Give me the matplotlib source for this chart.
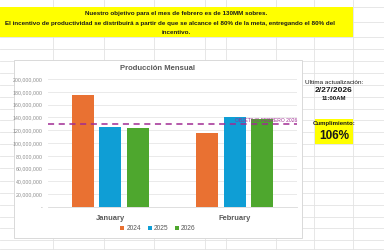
import numpy as np
import matplotlib
matplotlib.use("Agg")
import matplotlib.pyplot as plt
from matplotlib.patches import Rectangle
from matplotlib.lines import Line2D
from matplotlib.ticker import FuncFormatter

plt.rcParams["font.family"] = ["Liberation Sans", "DejaVu Sans"]

W, H = 384, 250

months = ["January", "February"]
years = ["2024", "2025", "2026"]
values_2024 = [175e6, 116e6]
values_2025 = [124.5e6, 140e6]
values_2026 = [123.5e6, 137.5e6]
objetivo = 130e6
colors = ["#E97132", "#0F9ED5", "#4EA72E"]

banner_lines = [
    "Nuestro objetivo para el mes de febrero es de 130MM sobres.",
    "El incentivo de productividad se distribuirá a partir de que se alcance el 80% de la meta, entregando el 80% del",
    "incentivo.",
]


def fx(x):
    return x / W


def fy(y):
    return 1 - y / H


fig = plt.figure(figsize=(W / 100, H / 100), dpi=100)
fig.patch.set_facecolor("white")

# spreadsheet cell grid
grid_c = "#E3E3E3"
for x in [53, 104, 154, 205, 226, 276, 314, 353]:
    fig.add_artist(Line2D([fx(x), fx(x)], [0, 1], color=grid_c, lw=0.6, zorder=0))
for y in [7, 22, 37, 49, 61, 73, 85, 97, 109, 120, 132, 144, 156, 168, 181, 193, 205, 217, 228, 240, 249]:
    fig.add_artist(Line2D([0, 1], [fy(y), fy(y)], color=grid_c, lw=0.6, zorder=0))

# yellow banner
fig.add_artist(Rectangle((fx(0), fy(37)), fx(353), (37 - 7) / H, facecolor="#FFFF00",
                         edgecolor="none", zorder=1))
for txt, y, xc in zip(banner_lines, [14, 23.5, 32.5], [176, 170, 176]):
    fig.text(fx(xc), fy(y), txt, ha="center", va="center", fontsize=4.5,
             fontweight="bold", color="#1a1a1a", zorder=2)

# chart box
fig.add_artist(Rectangle((fx(14), fy(238)), (302 - 14) / W, (238 - 60) / H, facecolor="white",
                         edgecolor="#D9D9D9", lw=0.7, zorder=1))
fig.text(fx(158), fy(69), "Producción Mensual", ha="center", va="center", fontsize=5.5,
         fontweight="bold", color="#595959", zorder=3)

ax = fig.add_axes([fx(48), fy(207), (297 - 48) / W, (207 - 79) / H], zorder=2)
ax.set_facecolor("none")
x = np.arange(len(months))
bw = 0.177
offs = [-0.222, 0, 0.222]
for vals, c, off, lab in zip([values_2024, values_2025, values_2026], colors, offs, years):
    ax.bar(x + off, vals, width=bw, color=c, label=lab, zorder=2)
ax.axhline(objetivo, color="#A02B93", lw=1.1, ls=(0, (4, 3)), zorder=3)
ax.text(1.5, objetivo + 1.5e6, "OBJETIVO FEBRERO 2026", ha="right", va="bottom",
        fontsize=3.6, color="#A02B93", zorder=4)

ax.set_xlim(-0.5, 1.5)
ax.set_ylim(0, 200e6)
ax.set_yticks(np.arange(0, 200e6 + 1, 20e6))
ax.yaxis.set_major_formatter(FuncFormatter(lambda v, p: "-" if v == 0 else f"{v:,.0f}"))
ax.set_xticks(x)
ax.set_xticklabels(months, fontsize=5.4, fontweight="bold", color="#595959")
ax.tick_params(axis="y", labelsize=3.8, colors="#8c8c8c", length=0, pad=4)
ax.tick_params(axis="x", length=0, pad=6)
ax.grid(axis="y", color="#E6E6E6", lw=0.6, zorder=0)
for s in ["top", "right", "left"]:
    ax.spines[s].set_visible(False)
ax.spines["bottom"].set_color("#D9D9D9")
ax.spines["bottom"].set_linewidth(0.6)

leg = fig.legend(loc="center", bbox_to_anchor=(fx(158), fy(229)), ncol=3, frameon=False,
                 fontsize=4.8, handlelength=0.6, handleheight=0.6, handletextpad=0.3,
                 columnspacing=1.0, labelcolor="#595959")

# right side info
fig.text(fx(334), fy(82), "Ultima actualización:", ha="center", va="center", fontsize=4.6,
         color="#1a1a1a", zorder=3)
fig.text(fx(334), fy(90.5), "2/27/2026", ha="center", va="center", fontsize=6,
         fontweight="bold", color="#1a1a1a", zorder=3)
fig.text(fx(334), fy(99), "11:00AM", ha="center", va="center", fontsize=4.4,
         fontweight="bold", color="#1a1a1a", zorder=3)
fig.add_artist(Rectangle((fx(315), fy(144)), (353 - 315) / W, (144 - 119) / H,
                         facecolor="#FFFF00", edgecolor="none", zorder=1))
fig.text(fx(334), fy(124), "Cumplimiento:", ha="center", va="center", fontsize=4.4,
         fontweight="bold", color="#1a1a1a", zorder=3)
fig.text(fx(334), fy(136), "106%", ha="center", va="center", fontsize=8.5,
         fontweight="bold", color="#1a1a1a", zorder=3)

fig.savefig("out.png", dpi=100)
